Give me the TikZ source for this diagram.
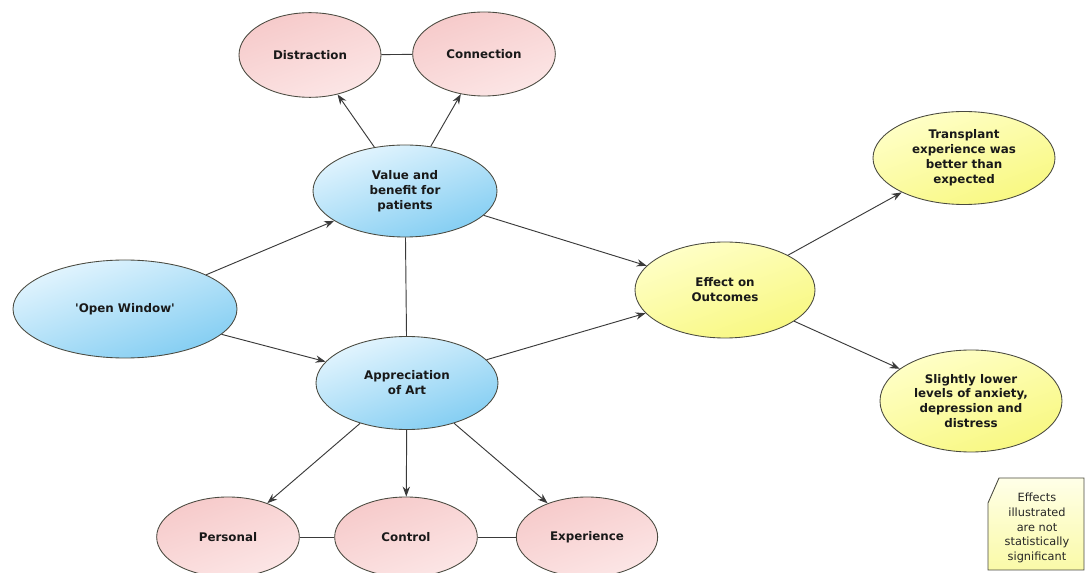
\documentclass[tikz,border=0pt]{standalone}
\usepackage{fontspec}
\setmainfont{DejaVu Sans}
\usetikzlibrary{shapes.geometric,arrows.meta}
\definecolor{edgecol}{HTML}{4A4A40}
\definecolor{linecol}{HTML}{3A3A3A}
\definecolor{pinkA}{HTML}{F6CACA}
\definecolor{pinkB}{HTML}{FCE6E6}
\definecolor{blueA}{HTML}{E4F5FE}
\definecolor{blueB}{HTML}{82CDF2}
\definecolor{yelA}{HTML}{FFFFC8}
\definecolor{yelB}{HTML}{F8F880}
\definecolor{noteA}{HTML}{FFFFE8}
\definecolor{noteB}{HTML}{FAFAA8}
\tikzset{
  base/.style={ellipse, draw=edgecol, line width=0.65pt, inner sep=1pt, align=center,
    font=\bfseries\fontsize{8.9}{11.2}\selectfont, text=black!90},
  pinknode/.style={base, top color=pinkA, bottom color=pinkB, shading angle=20},
  bluenode/.style={base, top color=blueA, bottom color=blueB, shading angle=20},
  yelnode/.style={base, top color=yelA, bottom color=yelB, shading angle=20},
  conn/.style={draw=linecol, line width=0.7pt},
  arr/.style={conn, -{Stealth[length=7.5pt,width=5.5pt]}},
}
\begin{document}
\begin{tikzpicture}[x=0.75pt,y=-0.75pt]
\useasboundingbox (0,0) rectangle (1090,573);
\fill[white] (0,0) rectangle (1090,573);
% nodes
\node[pinknode, minimum width=106.5pt, minimum height=63.5pt] (dis) at (310,55) {Distraction};
\node[pinknode, minimum width=107pt, minimum height=63pt] (con) at (484,54) {Connection};
\node[bluenode, minimum width=138pt, minimum height=69pt] (val) at (405,191) {Value and\\benefit for\\patients};
\node[bluenode, minimum width=168pt, minimum height=73.5pt] (ow) at (125,309) {\textquotesingle Open Window\textquotesingle};
\node[bluenode, minimum width=136.5pt, minimum height=69.75pt] (app) at (407,383) {Appreciation\\of Art};
\node[yelnode, minimum width=135pt, minimum height=72pt] (eff) at (725,290) {Effect on\\Outcomes};
\node[yelnode, minimum width=136.5pt, minimum height=69.75pt] (tra) at (964,158) {Transplant\\experience was\\better than\\expected};
\node[yelnode, minimum width=136.5pt, minimum height=76.5pt] (sli) at (971,401) {Slightly lower\\levels of anxiety,\\depression and\\distress};
\node[pinknode, minimum width=107pt, minimum height=60pt] (per) at (228,537) {Personal};
\node[pinknode, minimum width=107pt, minimum height=60pt] (ctl) at (406,537) {Control};
\node[pinknode, minimum width=106pt, minimum height=60pt] (exp) at (587,537) {Experience};
% note
\draw[edgecol, line width=0.65pt, top color=noteA, bottom color=noteB]
  (988,503) -- (999,478) -- (1084,478) -- (1084,570) -- (988,570) -- cycle;
\node[align=center, font=\fontsize{8.5}{11}\selectfont, text=black!85, inner sep=0pt] (note) at (1037,528)
  {Effects\\illustrated\\are not\\statistically\\significant};
% connectors
\draw[arr] (val) -- (dis);
\draw[arr] (val) -- (con);
\draw[conn] (dis) -- (con);
\draw[arr] (ow) -- (val);
\draw[arr] (ow) -- (app);
\draw[conn] (val) -- (app);
\draw[arr] (val) -- (eff);
\draw[arr] (app) -- (eff);
\draw[arr] (eff) -- (tra);
\draw[arr] (eff) -- (sli);
\draw[arr] (app) -- (per);
\draw[arr] (app) -- (ctl);
\draw[arr] (app) -- (exp);
\draw[conn] (per) -- (ctl);
\draw[conn] (ctl) -- (exp);
\end{tikzpicture}
\end{document}
